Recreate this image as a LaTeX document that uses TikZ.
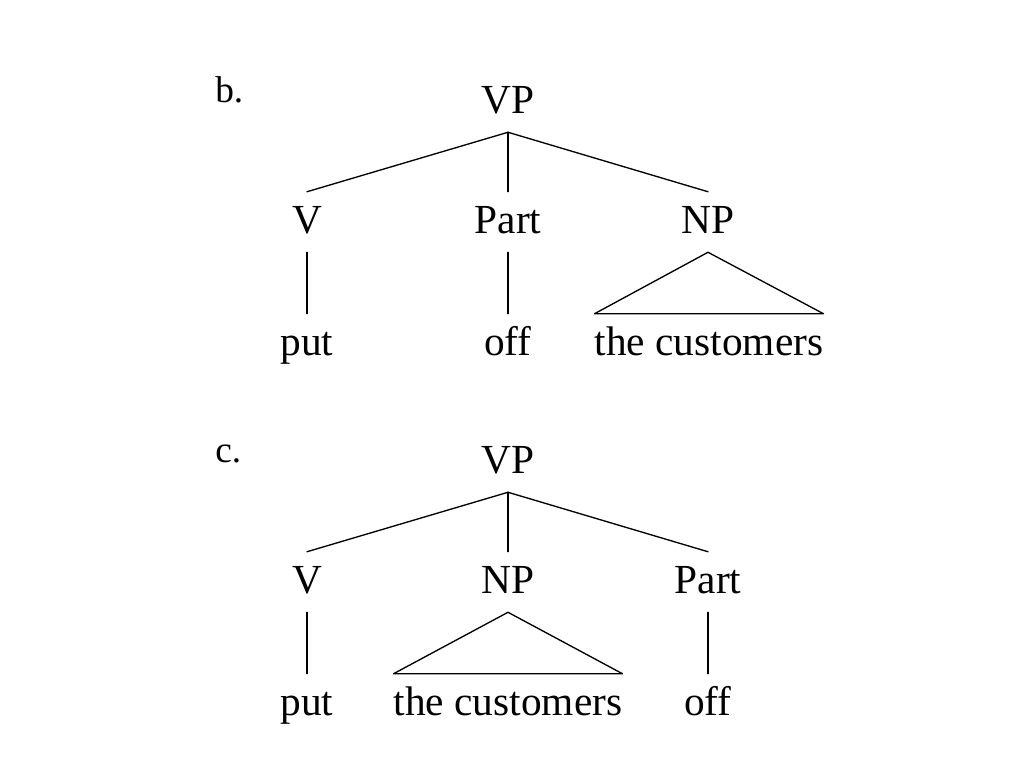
\documentclass[tikz,border=0pt]{standalone}
\usepackage{fontspec}
\setmainfont{Liberation Serif}
\begin{document}
\begin{tikzpicture}[x=0.75pt,y=-0.75pt,
  lbl/.style={inner sep=0pt,font=\fontsize{28}{30}\selectfont,anchor=base west},
  cat/.style={inner sep=0pt,font=\fontsize{31}{34}\selectfont,text height=30.75pt,text depth=14.25pt,anchor=base},
  edge/.style={line width=1pt,line cap=round}]
\path[use as bounding box,fill=white] (0,0) rectangle (1024,768);
% tree b
\node[lbl] (bl) at (215,102) {b.};
\node[cat] (bVP) at (508,113) {VP};
\node[cat] (bV) at (307,233) {V};
\node[cat] (bPart) at (508,233) {Part};
\node[cat] (bNP) at (708,233) {NP};
\node[cat] (bput) at (307,355) {put};
\node[cat] (boff) at (508,355) {off};
\node[cat] (bcust) at (709,355) {the customers};
\draw[edge] (bVP.south) -- (bV.north);
\draw[edge] (bVP.south) -- (bPart.north);
\draw[edge] (bVP.south) -- (bNP.north);
\draw[edge] (bV.south) -- (bput.north);
\draw[edge] (bPart.south) -- (boff.north);
\draw[edge,line join=round] (bNP.south) -- (bcust.north east) -- (bcust.north west) -- cycle;
% tree c
\node[lbl] (cl) at (215,462) {c.};
\node[cat] (cVP) at (508,473) {VP};
\node[cat] (cV) at (307,593) {V};
\node[cat] (cNP) at (508,593) {NP};
\node[cat] (cPart) at (708,593) {Part};
\node[cat] (cput) at (307,715) {put};
\node[cat] (ccust) at (508,715) {the customers};
\node[cat] (coff) at (708,715) {off};
\draw[edge] (cVP.south) -- (cV.north);
\draw[edge] (cVP.south) -- (cNP.north);
\draw[edge] (cVP.south) -- (cPart.north);
\draw[edge] (cV.south) -- (cput.north);
\draw[edge] (cPart.south) -- (coff.north);
\draw[edge,line join=round] (cNP.south) -- (ccust.north east) -- (ccust.north west) -- cycle;
\end{tikzpicture}
\end{document}
